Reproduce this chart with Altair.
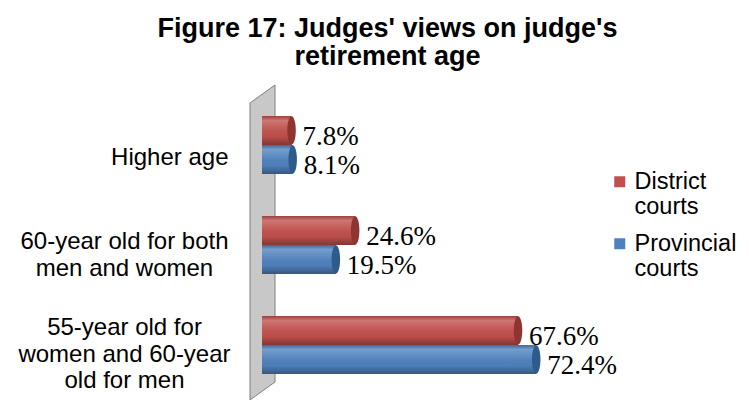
import altair as alt
import pandas as pd

categories = ["Higher age",
              "60-year old for both\nmen and women",
              "55-year old for\nwomen and 60-year\nold for men"]
series = ["District courts", "Provincial courts"]
district = [7.8, 24.6, 67.6]
provincial = [8.1, 19.5, 72.4]
bar_colors = ["#c0504d", "#4f81bd"]
cap_colors = ["#8e3431", "#2f5a8c"]

rows = []
for c, d, p in zip(categories, district, provincial):
    rows.append({"category": c, "series": series[0], "value": d})
    rows.append({"category": c, "series": series[1], "value": p})
df = pd.DataFrame(rows)

xscale = alt.Scale(domain=[0, 80])

is_single = "datum.value == 'Higher age'"
is_two = "indexof(datum.value, 'both') >= 0"

base = alt.Chart(df).encode(
    y=alt.Y("category:N", sort=categories,
            scale=alt.Scale(paddingInner=0.42, paddingOuter=0.21),
            axis=alt.Axis(title=None, ticks=False, domain=False,
                          labelAlign={"condition": {"test": is_single, "value": "right"},
                                      "value": "center"},
                          labelPadding={"condition": {"test": is_single, "value": 34},
                                        "value": 138},
                          labelOffset={"condition": [{"test": is_single, "value": 13},
                                                     {"test": is_two, "value": -3}],
                                       "value": -17},
                          labelExpr="split(datum.label, '\\n')",
                          labelFont="Liberation Sans", labelFontSize=24,
                          labelLineHeight=26.5, labelColor="black", labelLimit=400)),
    yOffset=alt.YOffset("series:N", sort=series),
)

# grey 3D wall (decoration)
wall = alt.Chart(pd.DataFrame({"a": [0]})).mark_point(
    shape="M-12,8L13,-10L13,287L-12,305Z", size=4, filled=True,
    fill="#c8c8c8", stroke="#7f7f7f", strokeWidth=1, opacity=1
).encode(x=alt.value(0), y=alt.value(0))

bars = base.mark_bar().encode(
    x=alt.X("value:Q", scale=xscale, axis=None),
    x2=alt.value(-4),
    color=alt.Color("series:N", scale=alt.Scale(domain=series, range=bar_colors),
                    legend=alt.Legend(title=None, orient="none", legendX=346, legendY=75,
                                      labelExpr="split(datum.label, ' ')",
                                      labelFont="Liberation Sans", labelFontSize=23.5,
                                      labelColor="black",
                                      symbolType="square", symbolSize=121,
                                      symbolStrokeWidth=0, labelOffset=3,
                                      rowPadding=12, labelLimit=300, padding=0)),
)

shade = alt.Gradient(
    gradient="linear", x1=0, x2=0, y1=0, y2=1,
    stops=[alt.GradientStop(offset=0, color="rgba(0,0,0,0.18)"),
           alt.GradientStop(offset=0.15, color="rgba(255,255,255,0.22)"),
           alt.GradientStop(offset=0.4, color="rgba(255,255,255,0.08)"),
           alt.GradientStop(offset=0.7, color="rgba(0,0,0,0.02)"),
           alt.GradientStop(offset=1, color="rgba(0,0,0,0.32)")])

shading = base.mark_bar(fill=shade).encode(
    x=alt.X("value:Q", scale=xscale, axis=None),
    x2=alt.value(-4),
)

caps = base.mark_point(
    shape="M0,-1A0.3,1,0,1,1,0,1A0.3,1,0,1,1,0,-1Z",
    size=800, filled=True, opacity=1, strokeWidth=0
).encode(
    x=alt.X("value:Q", scale=xscale, axis=None),
    fill=alt.Fill("series:N", scale=alt.Scale(domain=series, range=cap_colors), legend=None),
)

labels = base.mark_text(
    align="left", baseline="middle", dx=11, dy=6,
    font="Liberation Serif", fontSize=27, color="black"
).encode(
    x=alt.X("value:Q", scale=xscale, axis=None),
    text="label:N",
).transform_calculate(label="format(datum.value, '.1f') + '%'")

chart = alt.layer(wall, bars, shading, caps, labels).properties(
    width=303, height=300,
    padding={"left": 254, "top": 87, "right": 176, "bottom": 5},
    autosize="none",
    title=alt.TitleParams(["Figure 17: Judges' views on judge's", "retirement age"],
                          font="Liberation Sans", fontSize=27, fontWeight="bold",
                          lineHeight=28, anchor="middle", dx=-26, offset=12,
                          color="black"),
).configure(background="white").configure_view(stroke=None)

chart.save("out.html", embed_options={"renderer": "svg", "actions": False})
